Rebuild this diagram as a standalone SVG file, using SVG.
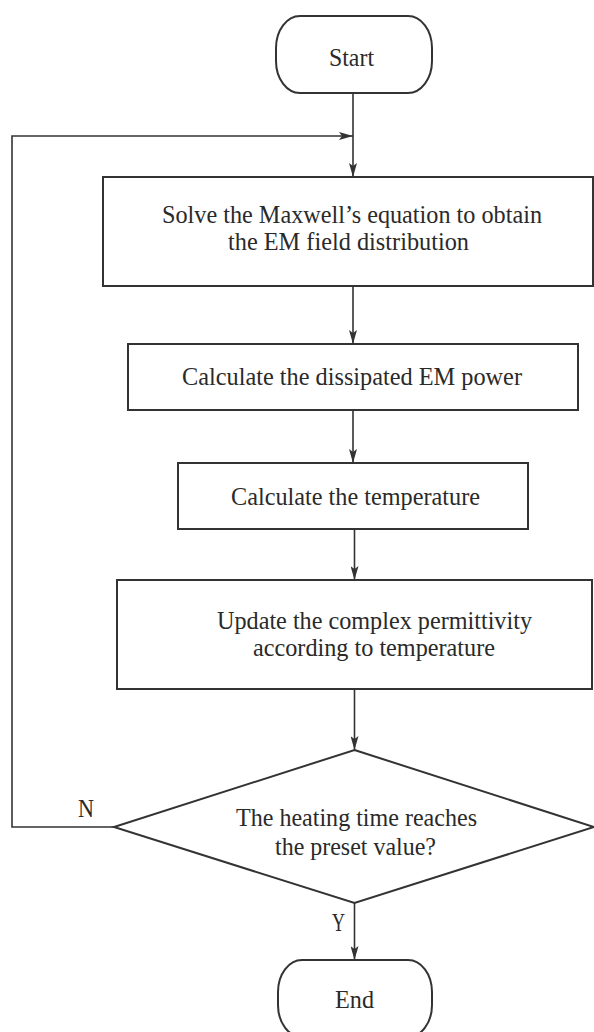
<svg xmlns="http://www.w3.org/2000/svg" width="594" height="1032" viewBox="0 0 594 1032">
<style>
.shape{fill:#fff;stroke:#333;stroke-width:2}
.conn{fill:none;stroke:#333;stroke-width:1.6}
.lbl{font-family:"Liberation Serif","Times New Roman",serif;font-size:26px;fill:#2a2a2a}
</style>
<defs>
<marker id="arr" viewBox="0 0 14 8" refX="14" refY="4" markerWidth="14" markerHeight="8" markerUnits="userSpaceOnUse" orient="auto">
<path d="M0,0 L14,4 L0,8 L3,4 z" fill="#333"/>
</marker>
</defs>
<rect width="594" height="1032" fill="#fff"/>
<g id="connectors">
<line class="conn" x1="353" y1="93" x2="353" y2="177" marker-end="url(#arr)"/>
<polyline class="conn" points="114,827 12,827 12,136 353,136" marker-end="url(#arr)"/>
<line class="conn" x1="353" y1="286" x2="353" y2="344" marker-end="url(#arr)"/>
<line class="conn" x1="353" y1="410" x2="353" y2="463" marker-end="url(#arr)"/>
<line class="conn" x1="354.5" y1="529" x2="354.5" y2="580" marker-end="url(#arr)"/>
<line class="conn" x1="354.5" y1="689" x2="354.5" y2="750" marker-end="url(#arr)"/>
<line class="conn" x1="354.5" y1="903" x2="354.5" y2="960" marker-end="url(#arr)"/>
<text class="lbl" x="78" y="817" textLength="16" lengthAdjust="spacingAndGlyphs">N</text>
<text class="lbl" x="332" y="931" textLength="13" lengthAdjust="spacingAndGlyphs">Y</text>
</g>
<g id="start">
<rect class="shape" x="276" y="16" width="156" height="77" rx="24" ry="32"/>
<text class="lbl" x="329" y="66" textLength="45" lengthAdjust="spacingAndGlyphs">Start</text>
</g>
<g id="solve">
<rect class="shape" x="103" y="177" width="490" height="109"/>
<text class="lbl" x="162" y="223" textLength="380" lengthAdjust="spacingAndGlyphs">Solve the Maxwell’s equation to obtain</text>
<text class="lbl" x="228" y="250" textLength="241" lengthAdjust="spacingAndGlyphs">the EM field distribution</text>
</g>
<g id="power">
<rect class="shape" x="128" y="344" width="450" height="66"/>
<text class="lbl" x="182" y="385" textLength="340" lengthAdjust="spacingAndGlyphs">Calculate the dissipated EM power</text>
</g>
<g id="temperature">
<rect class="shape" x="178" y="463" width="350" height="66"/>
<text class="lbl" x="231" y="505" textLength="249" lengthAdjust="spacingAndGlyphs">Calculate the temperature</text>
</g>
<g id="update">
<rect class="shape" x="117" y="580" width="475" height="109"/>
<text class="lbl" x="217" y="629" textLength="315" lengthAdjust="spacingAndGlyphs">Update the complex permittivity</text>
<text class="lbl" x="253" y="656" textLength="242" lengthAdjust="spacingAndGlyphs">according to temperature</text>
</g>
<g id="decision">
<polygon class="shape" points="354.5,750 594,827 354.5,903 114,827"/>
<text class="lbl" x="236" y="826" textLength="241" lengthAdjust="spacingAndGlyphs">The heating time reaches</text>
<text class="lbl" x="275" y="855" textLength="161" lengthAdjust="spacingAndGlyphs">the preset value?</text>
</g>
<g id="end">
<rect class="shape" x="278" y="960" width="154" height="77" rx="24" ry="32"/>
<text class="lbl" x="335" y="1008" textLength="39" lengthAdjust="spacingAndGlyphs">End</text>
</g>
</svg>
